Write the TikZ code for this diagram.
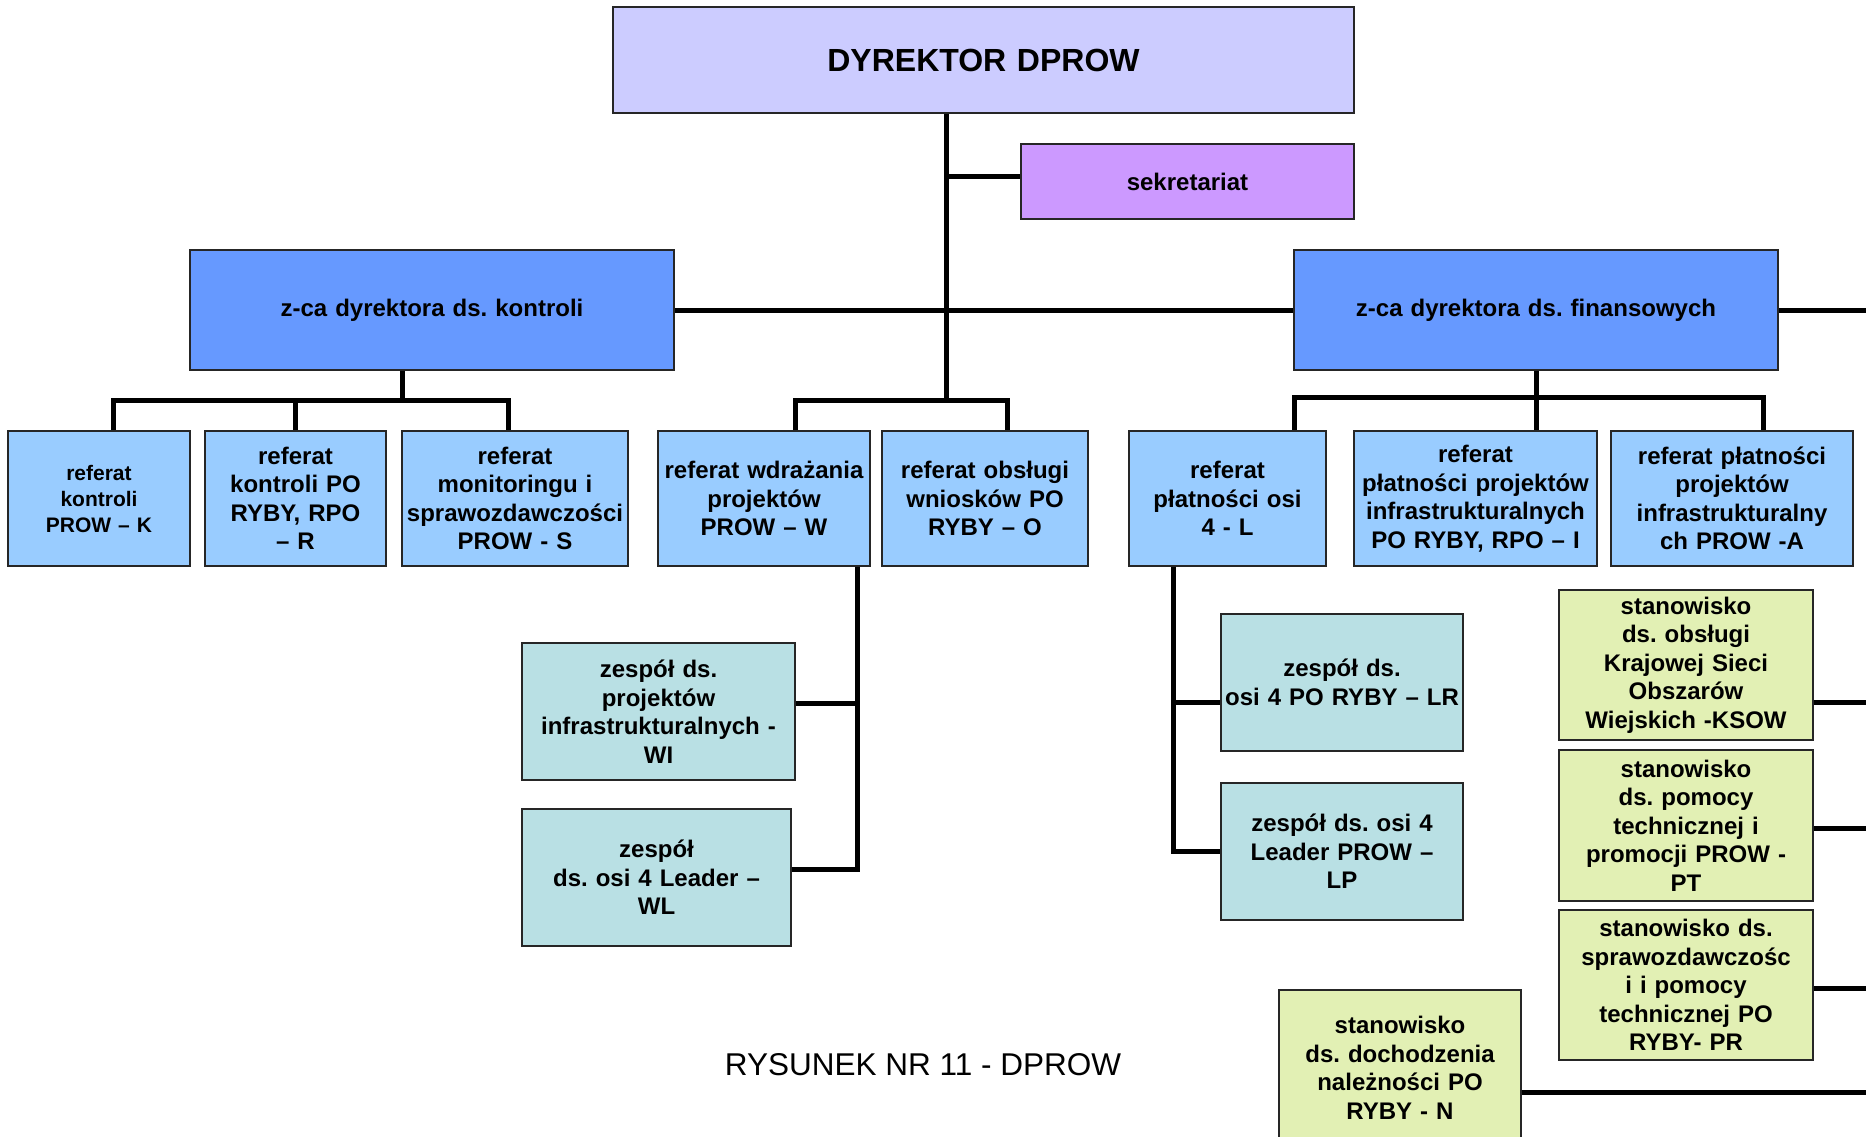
\documentclass[tikz,border=0pt]{standalone}
\usepackage{fontspec}
\setmainfont{Liberation Sans}
\definecolor{cdyr}{RGB}{204,204,255}
\definecolor{csek}{RGB}{204,153,255}
\definecolor{czca}{RGB}{102,153,255}
\definecolor{cref}{RGB}{153,204,255}
\definecolor{czes}{RGB}{185,224,228}
\definecolor{cstan}{RGB}{226,240,180}
\tikzset{
  orgbox/.style={draw=black!85, line width=1.8pt, align=center, inner sep=0pt,
    font=\bfseries\fontsize{24}{28.5}\selectfont},
  conn/.style={line width=5pt, black},
}
\begin{document}
\frenchspacing
\begin{tikzpicture}[x=1pt,y=-1pt]
\useasboundingbox (0,0) rectangle (1866,1136);
\clip (0,0) rectangle (1866,1136);
\fill[white] (0,0) rectangle (1866,1136);

% top
\node[orgbox, fill=cdyr, minimum width=741pt, minimum height=106pt, text width=730pt,
  font=\bfseries\fontsize{32}{38}\selectfont] (dyr) at (983.5,60) {DYREKTOR DPROW};
\node[orgbox, fill=csek, minimum width=333pt, minimum height=75pt, text width=325pt] (sek) at (1187.5,181.5) {sekretariat};

% deputies
\node[orgbox, fill=czca, minimum width=484pt, minimum height=120pt, text width=476pt] (zk) at (432,310) {z-ca dyrektora ds. kontroli};
\node[orgbox, fill=czca, minimum width=484pt, minimum height=120pt, text width=476pt] (zf) at (1536,310) {z-ca dyrektora ds. finansowych};

% referat row
\node[orgbox, fill=cref, minimum width=182pt, minimum height=135pt, text width=176pt,
  font=\bfseries\fontsize{21}{26}\selectfont] (k) at (99,498.5) {referat\\kontroli\\PROW – K};
\node[orgbox, fill=cref, minimum width=181pt, minimum height=135pt, text width=175pt] (r) at (295.5,498.5) {referat\\kontroli PO\\RYBY, RPO\\– R};
\node[orgbox, fill=cref, minimum width=226pt, minimum height=135pt, text width=222pt] (s) at (515,498.5) {referat\\monitoringu i\\sprawozdawczości\\PROW - S};
\node[orgbox, fill=cref, minimum width=212pt, minimum height=135pt, text width=208pt] (w) at (764,498.5) {referat wdrażania\\projektów\\PROW – W};
\node[orgbox, fill=cref, minimum width=206pt, minimum height=135pt, text width=200pt] (o) at (985,498.5) {referat obsługi\\wniosków PO\\RYBY – O};
\node[orgbox, fill=cref, minimum width=197pt, minimum height=135pt, text width=191pt] (l) at (1227.5,498.5) {referat\\płatności osi\\4 - L};
\node[orgbox, fill=cref, minimum width=243pt, minimum height=135pt, text width=239pt] (i) at (1475.5,498.5) {referat\\płatności projektów\\infrastrukturalnych\\PO RYBY, RPO – I};
\node[orgbox, fill=cref, minimum width=242pt, minimum height=135pt, text width=236pt] (a) at (1732,498.5) {referat płatności\\projektów\\infrastrukturalny\\ch PROW -A};

% zespoly
\node[orgbox, fill=czes, minimum width=273pt, minimum height=137pt, text width=265pt] (wi) at (658.5,711.5) {zespół ds.\\projektów\\infrastrukturalnych -\\WI};
\node[orgbox, fill=czes, minimum width=269pt, minimum height=137pt, text width=261pt] (wl) at (656.5,877.5) {zespół\\ds. osi 4 Leader –\\WL};
\node[orgbox, fill=czes, minimum width=242pt, minimum height=137pt, text width=238pt] (lr) at (1342,682.5) {zespół ds.\\osi 4 PO RYBY – LR};
\node[orgbox, fill=czes, minimum width=242pt, minimum height=137pt, text width=236pt] (lp) at (1342,851.5) {zespół ds. osi 4\\Leader PROW –\\LP};

% stanowiska
\node[orgbox, fill=cstan, minimum width=254pt, minimum height=150pt, text width=248pt] (ksow) at (1686,665) {stanowisko\\ds. obsługi\\Krajowej Sieci\\Obszarów\\Wiejskich -KSOW};
\node[orgbox, fill=cstan, minimum width=254pt, minimum height=151pt, text width=248pt] (pt) at (1686,825.5) {stanowisko\\ds. pomocy\\technicznej i\\promocji PROW -\\PT};
\node[orgbox, fill=cstan, minimum width=254pt, minimum height=150pt, text width=248pt] (pr) at (1686,985) {stanowisko ds.\\sprawozdawczośc\\i i pomocy\\technicznej PO\\RYBY- PR};
\node[orgbox, fill=cstan, minimum width=242pt, minimum height=156pt, text width=236pt] (n) at (1400,1068) {stanowisko\\ds. dochodzenia\\należności PO\\RYBY - N};

% caption
\node[font=\fontsize{31.5}{36}\selectfont, inner sep=0pt] (cap) at (923,1065) {RYSUNEK NR 11 - DPROW};

% junction coordinates
\coordinate (mbar) at (946,400);
\coordinate (sekj) at (946,176);
\coordinate (mbl) at (795,400);
\coordinate (mbr) at (1007,400);
\coordinate (kj) at (402,400);
\coordinate (kb1) at (113,400);
\coordinate (kb2) at (295,400);
\coordinate (kb3) at (508,400);
\coordinate (fb1) at (1294,397);
\coordinate (fb3) at (1763,397);
\coordinate (wj1) at (857,703);
\coordinate (wj2) at (857,869);
\coordinate (lj1) at (1173,702);
\coordinate (lj2) at (1173,851);
\coordinate (redge) at (1866,310);
\coordinate (e1) at (1866,702);
\coordinate (e2) at (1866,828);
\coordinate (e3) at (1866,988);
\coordinate (e4) at (1866,1092);

% connectors
\draw[conn] (dyr.south -| mbar) -- (mbar);
\draw[conn] (sekj) -- (sekj -| sek.west);
\draw[conn] (zk.east) -- (zf.west);
\draw[conn] (zf.east) -- (redge);
\draw[conn] (mbl |- w.north) -- (mbl) -- (mbr) -- (mbr |- o.north);
\draw[conn] (zk.south -| kj) -- (kj);
\draw[conn] (kb1 |- k.north) -- (kb1) -- (kb3) -- (kb3 |- s.north);
\draw[conn] (kb2) -- (kb2 |- r.north);
\draw[conn] (fb1 |- l.north) -- (fb1) -- (fb3) -- (fb3 |- a.north);
\draw[conn] (zf.south) -- (zf.south |- i.north);
\draw[conn] (w.south -| wj1) -- (wj2) -- (wj2 -| wl.east);
\draw[conn] (wj1) -- (wj1 -| wi.east);
\draw[conn] (l.south -| lj1) -- (lj2) -- (lj2 -| lp.west);
\draw[conn] (lj1) -- (lj1 -| lr.west);
\draw[conn] (e1 -| ksow.east) -- (e1);
\draw[conn] (e2 -| pt.east) -- (e2);
\draw[conn] (e3 -| pr.east) -- (e3);
\draw[conn] (e4 -| n.east) -- (e4);
\end{tikzpicture}
\end{document}
